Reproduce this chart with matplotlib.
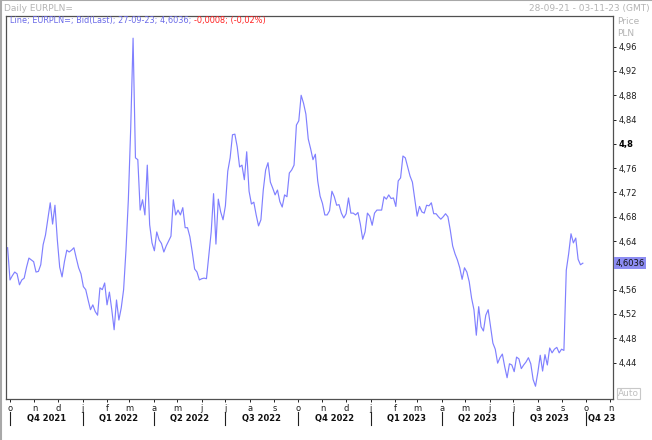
"""
EURPLN= daglig bid-kurs (linje), sep 2021 - sep 2023, i Reuters/Eikon-stil.
"""

import matplotlib
matplotlib.use("Agg")
import matplotlib.pyplot as plt
import pandas as pd
from matplotlib.lines import Line2D
from matplotlib.transforms import blended_transform_factory

# --- data (ett punkt per 3. dag) ---
START = "2021-09-28"
EURPLN = [
    4.629, 4.576, 4.583, 4.589, 4.586, 4.568, 4.576, 4.579, 4.597, 4.612,
    4.609, 4.606, 4.589, 4.590, 4.601, 4.634, 4.650, 4.676, 4.703, 4.668,
    4.699, 4.642, 4.597, 4.581, 4.606, 4.625, 4.622, 4.625, 4.629, 4.612,
    4.596, 4.586, 4.565, 4.560, 4.543, 4.527, 4.535, 4.524, 4.518, 4.563,
    4.560, 4.571, 4.535, 4.556, 4.527, 4.494, 4.543, 4.510, 4.530, 4.560,
    4.625, 4.708, 4.826, 4.974, 4.777, 4.774, 4.691, 4.708, 4.683, 4.765,
    4.667, 4.637, 4.624, 4.655, 4.642, 4.636, 4.622, 4.632, 4.640, 4.648,
    4.708, 4.683, 4.691, 4.683, 4.695, 4.662, 4.662, 4.647, 4.622, 4.594,
    4.589, 4.576, 4.578, 4.579, 4.578, 4.616, 4.655, 4.718, 4.635, 4.709,
    4.688, 4.675, 4.698, 4.755, 4.777, 4.815, 4.816, 4.795, 4.762, 4.765,
    4.741, 4.787, 4.722, 4.701, 4.704, 4.683, 4.665, 4.675, 4.724, 4.757,
    4.769, 4.737, 4.727, 4.716, 4.724, 4.705, 4.696, 4.716, 4.713, 4.752,
    4.757, 4.765, 4.831, 4.838, 4.880, 4.867, 4.849, 4.808, 4.792, 4.774,
    4.783, 4.739, 4.714, 4.702, 4.683, 4.683, 4.690, 4.722, 4.713, 4.699,
    4.700, 4.686, 4.678, 4.685, 4.711, 4.686, 4.686, 4.683, 4.687, 4.668,
    4.643, 4.655, 4.686, 4.681, 4.666, 4.686, 4.691, 4.691, 4.691, 4.713,
    4.709, 4.716, 4.710, 4.711, 4.697, 4.739, 4.744, 4.780, 4.777, 4.762,
    4.747, 4.737, 4.709, 4.681, 4.697, 4.688, 4.686, 4.699, 4.698, 4.703,
    4.685, 4.685, 4.680, 4.676, 4.680, 4.685, 4.680, 4.658, 4.632, 4.619,
    4.609, 4.596, 4.577, 4.596, 4.589, 4.573, 4.546, 4.527, 4.485, 4.532,
    4.499, 4.492, 4.518, 4.527, 4.499, 4.472, 4.462, 4.439, 4.448, 4.454,
    4.433, 4.415, 4.438, 4.436, 4.425, 4.449, 4.446, 4.430, 4.436, 4.441,
    4.448, 4.438, 4.412, 4.401, 4.424, 4.452, 4.426, 4.453, 4.436, 4.464,
    4.456, 4.462, 4.465, 4.456, 4.462, 4.460, 4.592, 4.619, 4.652, 4.637,
    4.645, 4.610, 4.601, 4.6036,
]

Y_TICKS = [4.44, 4.48, 4.52, 4.56, 4.64, 4.68, 4.72, 4.76, 4.8, 4.84, 4.88, 4.92, 4.96]
Y_LABELS = ["4,44", "4,48", "4,52", "4,56", "4,64", "4,68", "4,72", "4,76",
            "4,8", "4,84", "4,88", "4,92", "4,96"]
SISTE = 4.6036

MND_BOKSTAV = ["o", "n", "d", "j", "f", "m", "a", "m", "j", "j", "a", "s",
               "o", "n", "d", "j", "f", "m", "a", "m", "j", "j", "a", "s",
               "o", "n"]
KVARTAL = ["Q4 2021", "Q1 2022", "Q2 2022", "Q3 2022", "Q4 2022",
           "Q1 2023", "Q2 2023", "Q3 2023", "Q4 23"]

LINJEFARGE = "#8080ff"
GRAA = "#b4b4b4"


def main():
    datoer = pd.date_range(START, periods=len(EURPLN), freq="3D")
    mnd = pd.date_range("2021-10-01", periods=len(MND_BOKSTAV), freq="MS")
    kv = pd.date_range("2021-10-01", periods=len(KVARTAL) + 1, freq="QS")

    fig = plt.figure(figsize=(6.52, 4.40), dpi=100)
    W, H = 652, 440
    x0, x1, ytop, ybot = 6.3, 612.7, 15.7, 399.0
    ax = fig.add_axes([x0 / W, 1 - ybot / H, (x1 - x0) / W, (ybot - ytop) / H])

    ax.plot(datoer, EURPLN, color=LINJEFARGE, linewidth=0.85)

    ax.set_xlim(pd.Timestamp("2021-09-26 08:00"), pd.Timestamp("2023-11-03 20:00"))
    ax.set_ylim(4.380, 5.011)

    for s in ax.spines.values():
        s.set_color("#505050")
        s.set_linewidth(0.9)

    # y-akse til hoyre
    ax.yaxis.tick_right()
    ax.set_yticks(Y_TICKS)
    ax.set_yticklabels(Y_LABELS)
    ax.tick_params(axis="y", direction="out", length=2.5, width=0.7,
                   labelsize=6, pad=1.5, colors="#202020")
    for lbl in ax.get_yticklabels():
        if lbl.get_text() == "4,8":
            lbl.set_fontweight("bold")
            lbl.set_color("black")

    # x-akse: manedsbokstaver
    ax.set_xticks(mnd)
    ax.set_xticklabels(MND_BOKSTAV)
    ax.tick_params(axis="x", direction="out", length=2, width=0.7,
                   labelsize=6, pad=1.5, colors="#202020")

    tr = blended_transform_factory(ax.transData, ax.transAxes)
    ah = ybot - ytop
    y_kv = (ybot - 418.5) / ah
    for i, navn in enumerate(KVARTAL):
        if i < len(KVARTAL) - 1:
            midt = kv[i] + (kv[i + 1] - kv[i]) / 2
            ax.text(midt, y_kv, navn, transform=tr, ha="center", va="center",
                    fontsize=6, fontweight="bold", color="#101010")
        else:
            ax.text(kv[i] + pd.Timedelta(days=2), y_kv, navn, transform=tr,
                    ha="left", va="center", fontsize=6, fontweight="bold",
                    color="#101010")
    for d in kv[:-1]:
        ax.add_line(Line2D([d, d], [(ybot - 412) / ah, (ybot - 425) / ah],
                           transform=tr, color="#202020", linewidth=0.8,
                           clip_on=False))

    # siste kurs i boks
    tr_y = blended_transform_factory(ax.transAxes, ax.transData)
    ax.text(1.004, SISTE, "4,6036", transform=tr_y, ha="left", va="center",
            fontsize=6, color="#101010",
            bbox=dict(boxstyle="square,pad=0.15", facecolor="#8c8cf2",
                      edgecolor="none"))

    # tekster rundt
    fig.text(4 / W, 1 - 8.5 / H, "Daily EURPLN=", fontsize=6.5, color=GRAA,
             ha="left", va="center")
    fig.text(650 / W, 1 - 8.5 / H, "28-09-21 - 03-11-23 (GMT)", fontsize=6.5,
             color=GRAA, ha="right", va="center")
    fig.text(617 / W, 1 - 21.5 / H, "Price", fontsize=6.5, color=GRAA,
             ha="left", va="center")
    fig.text(617 / W, 1 - 33 / H, "PLN", fontsize=6.5, color=GRAA,
             ha="left", va="center")
    fig.text(618 / W, 1 - 393.5 / H, "Auto", fontsize=6.5, color="#c0c0c0",
             ha="left", va="center",
             bbox=dict(boxstyle="square,pad=0.15", facecolor="white",
                       edgecolor="#c8c8c8", linewidth=0.8))

    blaa = fig.text(10 / W, 1 - 21 / H,
                    "Line; EURPLN=; Bid(Last); 27-09-23; 4,6036; ",
                    fontsize=5.9, color="#6a6ae8", ha="left", va="center")
    fig.canvas.draw()
    bb = blaa.get_window_extent(fig.canvas.get_renderer())
    fig.text(bb.x1 / W, 1 - 21 / H, "-0,0008; (-0,02%)",
             fontsize=5.9, color="#ff2020", ha="left", va="center")

    # graa vindusramme
    fig.add_artist(Line2D([1 / W, 1 / W], [0, 1], transform=fig.transFigure,
                          color="#a8a8a8", linewidth=1.5))
    fig.add_artist(Line2D([0, 1], [1 - 0.5 / H, 1 - 0.5 / H],
                          transform=fig.transFigure, color="#a8a8a8",
                          linewidth=1.5))

    fig.savefig("out.png", dpi=100)
    plt.close(fig)


if __name__ == "__main__":
    main()
